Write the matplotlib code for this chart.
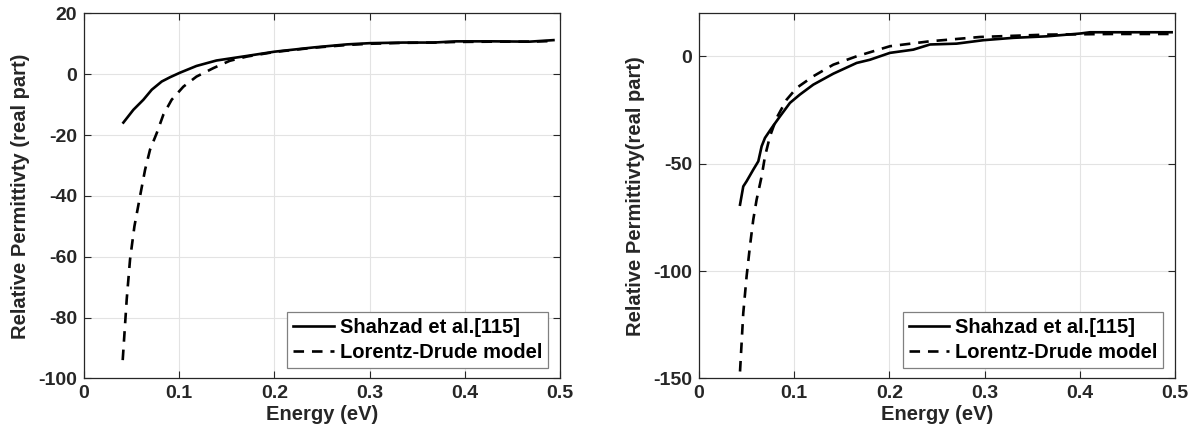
import numpy as np
import matplotlib
matplotlib.use('Agg')
import matplotlib.pyplot as plt

plt.rcParams['font.family'] = ['Liberation Sans', 'DejaVu Sans']
plt.rcParams['font.weight'] = 'bold'
plt.rcParams['axes.unicode_minus'] = False

# Left panel: data
left_exp_e = [0.0413, 0.0518, 0.0623, 0.0711, 0.0816, 0.0903, 0.1008, 0.118, 0.139, 0.171,
              0.200, 0.241, 0.276, 0.300, 0.335, 0.367, 0.391, 0.430, 0.468, 0.493]
left_exp_eps = [-15.9, -11.7, -8.4, -5.1, -2.4, -1.0, 0.5, 2.7, 4.5, 6.0,
                7.4, 8.8, 9.8, 10.2, 10.4, 10.4, 10.8, 10.8, 10.7, 11.2]
left_ld_e = [0.0406, 0.0448, 0.0483, 0.0529, 0.0588, 0.0641, 0.0693, 0.0763, 0.0833, 0.092,
             0.1043, 0.118, 0.1358, 0.153, 0.171, 0.200, 0.241, 0.276, 0.300, 0.335,
             0.367, 0.391, 0.430, 0.468, 0.493]
left_ld_eps = [-94.0, -74.0, -60.9, -50.0, -40.1, -31.4, -24.8, -19.4, -13.3, -8.4,
               -4.1, -0.8, 2.0, 4.4, 5.8, 7.3, 8.7, 9.6, 10.0, 10.3,
               10.4, 10.6, 10.7, 10.7, 10.9]

# Right panel
right_exp_e = [0.0431, 0.0465, 0.050, 0.057, 0.0623, 0.0658, 0.0693, 0.0763, 0.085, 0.0955,
               0.106, 0.120, 0.141, 0.1655, 0.1795, 0.2005, 0.225, 0.2425, 0.2705, 0.2985,
               0.330, 0.365, 0.400, 0.4105, 0.4962]
right_exp_eps = [-69.1, -60.6, -58.2, -52.8, -48.9, -41.9, -38.0, -33.4, -28.0, -21.7,
                 -17.8, -13.2, -8.1, -3.1, -1.6, 1.6, 3.1, 5.5, 5.9, 7.5,
                 8.6, 9.3, 10.6, 11.2, 11.2]
right_ld_e = [0.0431, 0.0465, 0.050, 0.0535, 0.057, 0.0605, 0.0658, 0.0693, 0.0745, 0.0815,
              0.092, 0.1026, 0.120, 0.141, 0.1655, 0.2005, 0.2425, 0.295, 0.365, 0.435, 0.4962]
right_ld_eps = [-146.8, -119.6, -102.5, -88.5, -76.1, -66.8, -55.9, -46.6, -37.3, -28.7,
                -20.2, -14.7, -9.3, -3.9, 0.0, 4.7, 7.0, 9.0, 10.1, 10.4, 10.4]

panels = [
    dict(exp=(left_exp_e, left_exp_eps), ld=(left_ld_e, left_ld_eps),
         ylim=(-100, 20), yticks=[-100, -80, -60, -40, -20, 0, 20],
         ylabel='Relative Permittivty (real part)', rect=[0.0704, 0.142, 0.3987, 0.8277]),
    dict(exp=(right_exp_e, right_exp_eps), ld=(right_ld_e, right_ld_eps),
         ylim=(-150, 20), yticks=[-150, -100, -50, 0],
         ylabel='Relative Permittivty(real part)', rect=[0.5854, 0.142, 0.3989, 0.8277]),
]

axcol = '#262626'
fig = plt.figure(figsize=(11.94, 4.41), dpi=100)

for p in panels:
    ax = fig.add_axes(p['rect'])
    ax.plot(p['exp'][0], p['exp'][1], color='black', linewidth=1.9, label='Shahzad et al.[115]')
    ax.plot(p['ld'][0], p['ld'][1], color='black', linewidth=1.9, linestyle=(0, (4, 3)),
            label='Lorentz-Drude model')
    ax.set_xlim(0, 0.5)
    ax.set_ylim(p['ylim'])
    ax.set_xticks([0, 0.1, 0.2, 0.3, 0.4, 0.5])
    ax.set_xticklabels(['0', '0.1', '0.2', '0.3', '0.4', '0.5'])
    ax.set_yticks(p['yticks'])
    ax.grid(True, color='#e3e3e3', linewidth=0.8)
    ax.set_axisbelow(True)
    ax.tick_params(direction='in', top=True, right=True, length=5, width=0.8,
                   labelsize=14, colors=axcol, pad=5)
    for lab in ax.get_xticklabels() + ax.get_yticklabels():
        lab.set_fontweight('bold')
    for s in ax.spines.values():
        s.set_color(axcol)
        s.set_linewidth(0.9)
    ax.set_xlabel('Energy (eV)', fontsize=14.5, fontweight='bold', color=axcol, labelpad=2)
    ax.set_ylabel(p['ylabel'], fontsize=14.5, fontweight='bold', color=axcol, labelpad=6)
    leg = ax.legend(loc='lower right', bbox_to_anchor=(0.975, 0.028), borderaxespad=0,
                    fancybox=False, edgecolor='#808080', framealpha=1,
                    prop={'weight': 'bold', 'size': 14.5}, handlelength=2.0,
                    handletextpad=0.3, borderpad=0.3, labelspacing=0.3)
    leg.get_frame().set_linewidth(0.9)

fig.savefig('out.png', dpi=100)
